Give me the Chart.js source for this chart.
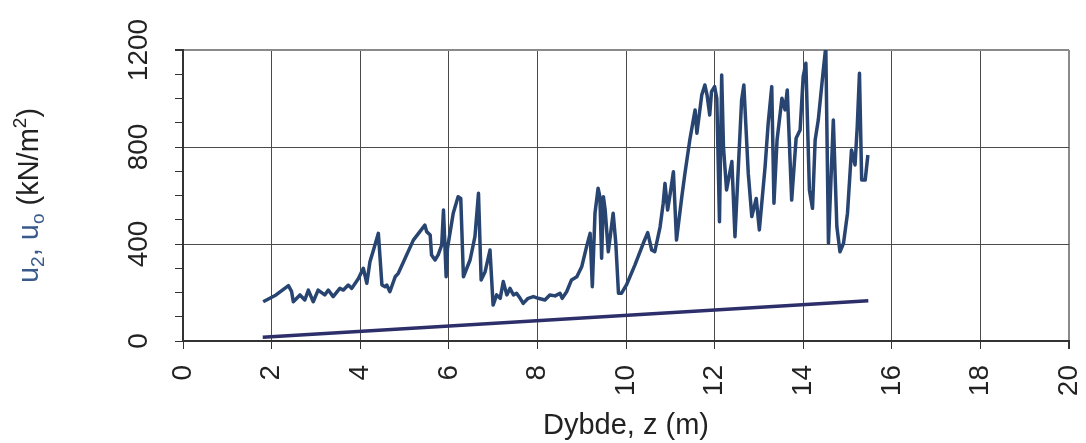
<!DOCTYPE html>
<html>
<head>
<meta charset="utf-8">
<script src="https://cdn.jsdelivr.net/npm/chart.js@4/dist/chart.umd.min.js"></script>
<style>
  body { margin: 0; background: #fff; }
  canvas { display: block; }
</style>
</head>
<body>
<canvas id="myChart" width="1086" height="443"></canvas>
<script>
// dybde z (m) og poretryk u2 (kN/m2), aflæst fra kurven
var depthU2 = [1.81, 2.10, 2.38, 2.45, 2.49, 2.64, 2.75, 2.83, 2.94, 3.05, 3.20, 3.28, 3.39, 3.54, 3.62, 3.73, 3.81, 3.96,
    4.07, 4.15, 4.22, 4.30, 4.41, 4.49, 4.56, 4.60, 4.67, 4.79, 4.86, 5.20, 5.46, 5.50, 5.58, 5.61, 5.69, 5.76, 5.84, 5.88,
    5.91, 5.94, 5.97, 6.10, 6.21, 6.27, 6.33, 6.48, 6.59, 6.67, 6.73, 6.82, 6.93, 7.00, 7.08, 7.16, 7.23, 7.31, 7.38, 7.46,
    7.53, 7.61, 7.68, 7.79, 7.91, 8.02, 8.17, 8.28, 8.40, 8.51, 8.56, 8.66, 8.77, 8.89, 9.00, 9.11, 9.19, 9.24, 9.30, 9.37,
    9.41, 9.45, 9.49, 9.53, 9.60, 9.71, 9.77, 9.83, 9.90, 10.01, 10.20, 10.39, 10.49, 10.58, 10.65, 10.77, 10.84, 10.88,
    10.94, 11.00, 11.07, 11.14, 11.26, 11.33, 11.44, 11.56, 11.60, 11.71, 11.78, 11.83, 11.89, 11.93, 12.00, 12.05, 12.11,
    12.16, 12.20, 12.27, 12.39, 12.46, 12.61, 12.66, 12.76, 12.84, 12.94, 13.01, 13.14, 13.21, 13.29, 13.34, 13.41, 13.52,
    13.59, 13.64, 13.74, 13.84, 13.93, 14.00, 14.06, 14.14, 14.21, 14.27, 14.34, 14.45, 14.51, 14.57, 14.68, 14.76, 14.83,
    14.91, 15.00, 15.09, 15.17, 15.22, 15.27, 15.32, 15.40, 15.46];
var u2 = [162, 190, 228, 205, 162, 190, 169, 210, 162, 210, 190, 210, 183, 217, 210, 231, 217, 258,
    300, 238, 327, 375, 444, 231, 224, 231, 203, 265, 279, 416, 478, 451, 437, 355, 334, 355, 396, 540,
    403, 265, 382, 527, 595, 588, 265, 334, 430, 609, 252, 286, 375, 148, 190, 176, 245, 190, 217, 190,
    197, 176, 155, 176, 183, 176, 169, 190, 186, 197, 176, 203, 252, 265, 306, 389, 444, 224, 527, 630,
    595, 341, 595, 540, 368, 527, 403, 197, 197, 231, 313, 403, 447, 375, 368, 471, 568, 650,
    540, 610, 698, 416, 595, 691, 829, 953, 857, 1014, 1056, 1014, 932, 1028, 1049, 1000, 492,
    1097, 801, 623, 740, 430, 994, 1056, 691, 513, 588, 458, 719, 898, 1049, 568, 829, 1001,
    953, 1035, 581, 836, 870, 1090, 1145, 623, 547, 829, 911, 1111, 1214, 403, 911, 471, 368,
    403, 527, 788, 726, 884, 1104, 664, 664, 767];

// hydrostatisk tryk u0
var depthU0 = [1.8, 15.47];
var u0 = [15, 166];

// akser
var xTicks = [0, 2, 4, 6, 8, 10, 12, 14, 16, 18, 20];
var yLabels = [0, 400, 800, 1200];

function toPoints(xs, ys) {
    return xs.map(function (x, i) { return { x: x, y: ys[i] }; });
}

var fontFamily = '"Liberation Sans", Arial, sans-serif';

// hvid baggrund
var bgPlugin = {
    id: 'bg',
    beforeDraw: function (chart) {
        var c = chart.ctx;
        c.save();
        c.fillStyle = '#ffffff';
        c.fillRect(0, 0, chart.width, chart.height);
        c.restore();
    }
};

// lodrette y-labels og y-aksetitel med sænket/hævet skrift
var yAxisTextPlugin = {
    id: 'yAxisText',
    afterDraw: function (chart) {
        var c = chart.ctx;
        var ys = chart.scales.y;
        c.save();
        c.fillStyle = '#222';
        c.font = '28px ' + fontFamily;
        c.textAlign = 'center';
        c.textBaseline = 'alphabetic';
        yLabels.forEach(function (v) {
            var py = ys.getPixelForValue(v);
            c.save();
            c.translate(147, py);
            c.rotate(-Math.PI / 2);
            c.fillText(String(v), 0, 0);
            c.restore();
        });

        // titel: u2, uo (kN/m2)
        var big = '29px ' + fontFamily;
        var small = '19px ' + fontFamily;
        var blue = '#3a5a8c';
        var black = '#222';
        var parts = [
            { t: 'u', f: big, col: blue, dy: 0 },
            { t: '2', f: small, col: blue, dy: 6 },
            { t: ', u', f: big, col: blue, dy: 0 },
            { t: 'o', f: small, col: blue, dy: 6 },
            { t: ' (kN/m', f: big, col: black, dy: 0 },
            { t: '2', f: small, col: black, dy: -12 },
            { t: ')', f: big, col: black, dy: 0 }
        ];
        var total = 0;
        parts.forEach(function (p) { c.font = p.f; p.w = c.measureText(p.t).width; total += p.w; });
        var cy = (chart.chartArea.top + chart.chartArea.bottom) / 2;
        c.translate(38, cy);
        c.rotate(-Math.PI / 2);
        c.textAlign = 'left';
        var x = -total / 2;
        parts.forEach(function (p) {
            c.font = p.f;
            c.fillStyle = p.col;
            c.fillText(p.t, x, p.dy);
            x += p.w;
        });
        c.restore();
    }
};

var ctx = document.getElementById('myChart');
var myChart = new Chart(ctx, {
    type: 'scatter',
    data: {
        datasets: [{
            label: 'u2',
            data: toPoints(depthU2, u2),
            showLine: true,
            borderColor: '#284471',
            borderWidth: 3.5,
            pointRadius: 0,
            tension: 0,
            borderJoinStyle: 'round'
        }, {
            label: 'u0',
            data: toPoints(depthU0, u0),
            showLine: true,
            borderColor: '#2d2f6a',
            borderWidth: 3.5,
            pointRadius: 0,
            tension: 0
        }]
    },
    options: {
        responsive: false,
        devicePixelRatio: 1,
        animation: false,
        layout: {
            padding: { top: 50, right: 17, left: 0, bottom: 0 }
        },
        plugins: {
            legend: { display: false },
            tooltip: { enabled: false }
        },
        scales: {
            x: {
                type: 'linear',
                min: 0,
                max: 20,
                afterBuildTicks: function (scale) {
                    scale.ticks = xTicks.map(function (v) { return { value: v }; });
                },
                afterFit: function (scale) {
                    scale.height = 102;
                    scale.paddingLeft = 0;
                    scale.paddingRight = 0;
                },
                grid: {
                    color: function (c) { return c.tick && c.tick.value === 20 ? '#8a8a8a' : '#4a4a4a'; },
                    lineWidth: function (c) { return c.tick && c.tick.value === 20 ? 2 : 1; },
                    tickColor: '#333',
                    tickLength: 8
                },
                border: { color: '#333', width: 2 },
                ticks: {
                    color: '#222',
                    font: { size: 28, family: fontFamily },
                    minRotation: 90,
                    maxRotation: 90,
                    padding: 16
                },
                title: {
                    display: true,
                    text: 'Dybde, z (m)',
                    color: '#222',
                    font: { size: 29, family: fontFamily },
                    padding: { top: 0, bottom: 0 }
                }
            },
            y: {
                min: 0,
                max: 1200,
                ticks: {
                    stepSize: 100,
                    display: false
                },
                afterFit: function (scale) {
                    scale.width = 183;
                    scale.paddingTop = 0;
                    scale.paddingBottom = 0;
                },
                grid: {
                    color: function (c) {
                        if (!c.tick) return 'rgba(0,0,0,0)';
                        if (c.tick.value === 1200) return '#8a8a8a';
                        return c.tick.value % 400 === 0 ? '#4a4a4a' : 'rgba(0,0,0,0)';
                    },
                    lineWidth: function (c) { return c.tick && c.tick.value === 1200 ? 2 : 1; },
                    tickColor: '#333',
                    tickLength: 8
                },
                border: { color: '#333', width: 2 }
            }
        }
    },
    plugins: [bgPlugin, yAxisTextPlugin]
});
</script>
</body>
</html>
